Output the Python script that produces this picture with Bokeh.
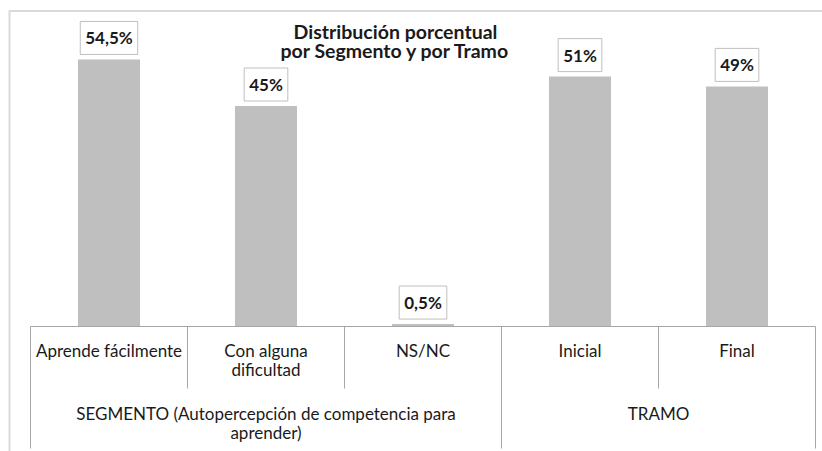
from bokeh.plotting import figure
from bokeh.models import Range1d, Label
from bokeh.core.properties import value
from bokeh.embed import file_html
from bokeh.resources import INLINE

# ---- data ----
categories = ["Aprende fácilmente", "Con alguna\ndificultad", "NS/NC", "Inicial", "Final"]
values = [54.5, 45, 0.5, 51, 49]
value_labels = ["54,5%", "45%", "0,5%", "51%", "49%"]
groups = ["SEGMENTO (Autopercepción de competencia para\naprender)", "TRAMO"]
group_sizes = [3, 2]
title_lines = ["Distribución porcentual", "por Segmento y por Tramo"]

# ---- layout helpers (page pixel -> data) ----
FIG_W, FIG_H = 822, 451
PAGE_OFF = 0
X0_PAGE = 30          # left edge of first category
CAT_W = 157           # pixels per category
BASE_PAGE = 326       # baseline y on page
PX_PER_UNIT = 4.9     # pixels per percent
LINE_STEP = 19        # pixels between text lines


def vx(page_x):
    return (page_x - X0_PAGE) / CAT_W - 0.5


def vy(page_y):
    return (BASE_PAGE - page_y) / PX_PER_UNIT


x_start = vx(PAGE_OFF)
x_end = vx(PAGE_OFF + FIG_W)
y_end = vy(PAGE_OFF)
y_start = vy(PAGE_OFF + FIG_H)

p = figure(width=FIG_W, height=FIG_H,
           x_range=Range1d(x_start, x_end), y_range=Range1d(y_start, y_end),
           output_backend="svg", toolbar_location=None,
           x_axis_type=None, y_axis_type=None, min_border=0)
p.grid.visible = False
p.outline_line_color = None
p.background_fill_color = "white"
p.border_fill_color = "white"

FONT = "Lato"
TXT = "#1a1a1a"
idx = list(range(len(categories)))

# outer chart border (top and left)
p.segment(x0=[vx(9), vx(9)], y0=[vy(10.5), vy(10)], x1=[vx(830), vx(9)], y1=[vy(10.5), vy(460)],
          line_color="#d9d9d9", line_width=2)

# bars
p.vbar(x=idx, top=values, width=0.395, fill_color="#bfbfbf", line_color=None)

# axis baseline
n = len(categories)
p.segment(x0=[-0.5], y0=[0], x1=[n - 0.5], y1=[0], line_color="#a6a6a6", line_width=1)

# separators
group_bounds = [0]
for s in group_sizes:
    group_bounds.append(group_bounds[-1] + s)
sx, sy1 = [], []
for b in range(n + 1):
    sx.append(b - 0.5)
    sy1.append(vy(448) if b in group_bounds else vy(388))
p.segment(x0=sx, y0=[0] * len(sx), x1=sx, y1=sy1, line_color="#a6a6a6", line_width=1)


def multiline(xs, labels, first_center, size="17px", style="normal"):
    tx, ty, tt = [], [], []
    for x, lab in zip(xs, labels):
        for j, line in enumerate(lab.split("\n")):
            tx.append(x)
            ty.append(vy(first_center + j * LINE_STEP))
            tt.append(line)
    p.text(x=tx, y=ty, text=tt, text_align="center", text_baseline="middle",
           text_font=value(FONT), text_font_size=size, text_font_style=style, text_color=TXT)


# category labels
multiline(idx, categories, 350)

# group labels
gx = [(group_bounds[i] + group_bounds[i + 1] - 1) / 2 for i in range(len(groups))]
multiline(gx, groups, 413)

# value labels
for i, (v, t) in enumerate(zip(values, value_labels)):
    p.add_layout(Label(x=i, y=v, text=t, text_align="center", text_baseline="bottom",
                       y_offset=5, text_font=FONT, text_font_size="17px", text_font_style="bold",
                       text_color=TXT, background_fill_color="white",
                       border_line_color="#bfbfbf", border_line_width=1,
                       padding=dict(left=5, right=5, top=6, bottom=6)))

# title (two lines)
multiline([vx(395)], ["\n".join(title_lines)], 31, size="19.5px", style="bold")

open("out.html", "w").write(file_html(p, INLINE))
